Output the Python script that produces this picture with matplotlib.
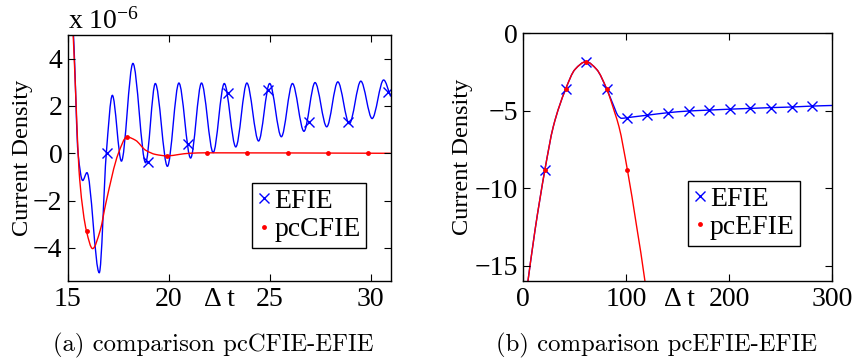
import numpy as np
import matplotlib
matplotlib.use("Agg")
import matplotlib.pyplot as plt
from matplotlib.path import Path
from matplotlib.patches import PathPatch
from matplotlib.lines import Line2D
from matplotlib.transforms import blended_transform_factory

plt.rcParams['font.family'] = ['Liberation Serif', 'DejaVu Serif']
plt.rcParams['mathtext.fontset'] = 'custom'
plt.rcParams['mathtext.rm'] = 'Liberation Serif'
plt.rcParams['mathtext.it'] = 'Liberation Serif:italic'

# ---------------- data: panel (a), values in units of 1e-6 ----------------
efie_a_t = [15.1, 15.3, 15.5, 15.73, 15.94, 16.55, 16.9, 17.2, 17.65, 18.22, 18.85,
            19.33, 19.93, 20.5, 21.08, 21.62, 22.2, 22.75, 23.32, 23.87, 24.45,
            25.0, 25.58, 26.13, 26.7, 27.25, 27.83, 28.38, 28.95, 29.52, 30.08,
            30.65, 31.0]
efie_a_val = [8.0, 4.5, 0.0, -1.15, -0.82, -5.05, 0.0, 2.45, -0.33, 3.8, -0.4,
              2.95, -0.55, 2.97, -0.2, 2.97, 0.03, 2.95, 0.27, 2.97, 0.52,
              2.95, 0.7, 2.95, 0.93, 2.99, 1.12, 3.02, 1.25, 3.05, 1.47,
              3.1, 2.4]
pc_a_t = [15.1, 15.3, 15.58, 15.92, 16.22, 16.6, 16.88, 17.5, 17.92, 18.35, 18.85,
          19.35, 19.92, 20.5, 21.0, 21.9, 31.0]
pc_a_val = [8.0, 4.2, -1.1, -3.3, -4.03, -3.25, -2.1, 0.0, 0.69, 0.55, 0.13,
            -0.05, -0.11, -0.05, 0.0, 0.02, 0.0]
efie_a_mk_t = [16.92, 18.95, 20.93, 22.94, 24.92, 26.95, 28.88, 30.86]
efie_a_mk_val = [0.02, -0.37, 0.38, 2.56, 2.69, 1.32, 1.32, 2.6]
pc_a_mk_t = [15.92, 17.91, 19.92, 21.9, 23.9, 25.89, 27.89, 29.87]
pc_a_mk_val = [-3.3, 0.68, -0.1, 0.02, 0.0, 0.0, 0.0, 0.0]

# ---------------- data: panel (b) ----------------
efie_b_t = [2.5, 11.4, 21, 29.1, 41, 50.2, 60.9, 71.2, 81, 87.4, 92.2, 95.5,
            100.4, 121.4, 140, 160, 180, 200, 220, 240, 260, 280, 300]
efie_b_val = [-17.0, -12.7, -8.8, -6.03, -3.62, -2.33, -1.83, -2.33, -3.6, -4.63,
              -5.34, -5.49, -5.45, -5.28, -5.13, -5.02, -4.96, -4.9, -4.85, -4.8,
              -4.76, -4.7, -4.66]
pc_b_t = [2.5, 11.4, 21, 29.1, 41, 50.2, 60.9, 71.2, 81, 89, 92.9, 101, 110.1,
          118.2, 120]
pc_b_val = [-17.0, -12.7, -8.8, -6.03, -3.62, -2.33, -1.83, -2.33, -3.6, -5.17,
            -6.03, -8.8, -12.5, -16.05, -17.0]
efie_b_mk_t = [21, 41, 61, 81, 100.5, 120.5, 140.5, 160.5, 180.5, 200.5, 220.5,
               240.5, 260.5, 280.5]
efie_b_mk_val = [-8.8, -3.62, -1.83, -3.58, -5.45, -5.28, -5.13, -5.02, -4.96,
                 -4.9, -4.85, -4.8, -4.76, -4.7]
pc_b_mk_t = [21, 41, 61, 81, 101]
pc_b_mk_val = [-8.85, -3.6, -1.85, -3.6, -8.8]

a_xticks = [15, 20, 25, 30]
a_yticks = [-4, -2, 0, 2, 4]
b_xticks = [0, 100, 200, 300]
b_yticks = [-15, -10, -5, 0]

BLUE = (0, 0, 1)
RED = (1, 0, 0)


def smooth_path(xs, ys):
    """Monotone cubic (PCHIP-like) curve through the points, as Bezier path."""
    x = np.asarray(xs, float)
    y = np.asarray(ys, float)
    h = np.diff(x)
    d = np.diff(y) / h
    m = np.zeros_like(y)
    m[0] = d[0]
    m[-1] = d[-1]
    for k in range(1, len(x) - 1):
        if d[k - 1] * d[k] <= 0:
            m[k] = 0.0
        else:
            w1 = 2 * h[k] + h[k - 1]
            w2 = h[k] + 2 * h[k - 1]
            m[k] = (w1 + w2) / (w1 / d[k - 1] + w2 / d[k])
    verts = [(x[0], y[0])]
    codes = [Path.MOVETO]
    for k in range(len(x) - 1):
        verts.append((x[k] + h[k] / 3, y[k] + m[k] * h[k] / 3))
        verts.append((x[k + 1] - h[k] / 3, y[k + 1] - m[k + 1] * h[k] / 3))
        verts.append((x[k + 1], y[k + 1]))
        codes += [Path.CURVE4] * 3
    return Path(verts, codes)


def draw_curve(ax, xs, ys, color):
    patch = PathPatch(smooth_path(xs, ys), fill=False, edgecolor=color, lw=1.0,
                      clip_on=True)
    ax.add_patch(patch)


fig = plt.figure(figsize=(8.53, 3.6), dpi=100)
axA = fig.add_axes([0.0797, 0.2194, 0.3783, 0.6833])
axB = fig.add_axes([0.6135, 0.2194, 0.3622, 0.688])

FS = 20
FSL = 17.5

for ax in (axA, axB):
    ax.tick_params(direction='in', top=True, right=True, length=5, width=0.8,
                   labelsize=FS, pad=4)
    for s in ax.spines.values():
        s.set_linewidth(1.0)

# panel a
draw_curve(axA, efie_a_t, efie_a_val, BLUE)
draw_curve(axA, pc_a_t, pc_a_val, RED)
axA.plot(efie_a_mk_t, efie_a_mk_val, ls='none', marker='x', color=BLUE, ms=7, mew=1.0)
axA.plot(pc_a_mk_t, pc_a_mk_val, ls='none', marker='o', color=RED, ms=3.5, mew=0)
axA.set_xlim(15, 31)
axA.set_ylim(-5.4, 5)
axA.set_xticks(a_xticks)
axA.set_yticks(a_yticks)
axA.set_yticklabels(['\u2212%d' % -v if v < 0 else '%d' % v for v in a_yticks])
axA.set_ylabel('Current Density', fontsize=FSL)
axA.yaxis.set_label_coords(-0.108, 0.5)
axA.text(0.0, 1.0, r'x 10$^{-6}$', transform=axA.transAxes, fontsize=FS,
         ha='left', va='bottom')
tr = blended_transform_factory(axA.transData, axA.transAxes)
axA.text(22.5, -0.025, '\u0394 t', transform=tr, fontsize=FS, ha='center', va='top')

hA = [Line2D([], [], ls='none', marker='x', color=BLUE, ms=7, mew=1.0),
      Line2D([], [], ls='none', marker='o', color=RED, ms=3.5, mew=0)]
legA = axA.legend(hA, ['EFIE', 'pcCFIE'], loc='upper left',
                  bbox_to_anchor=(0.570, 0.398), borderaxespad=0, fontsize=FS,
                  fancybox=False, framealpha=1, edgecolor='black',
                  handlelength=0.5, handletextpad=0.1, borderpad=0.2,
                  labelspacing=0.1)
legA.get_frame().set_linewidth(1.0)

# panel b
draw_curve(axB, efie_b_t, efie_b_val, BLUE)
draw_curve(axB, pc_b_t, pc_b_val, RED)
axB.plot(efie_b_mk_t, efie_b_mk_val, ls='none', marker='x', color=BLUE, ms=7, mew=1.0)
axB.plot(pc_b_mk_t, pc_b_mk_val, ls='none', marker='o', color=RED, ms=3.5, mew=0)
axB.set_xlim(0, 300)
axB.set_ylim(-16, 0)
axB.set_xticks(b_xticks)
axB.set_yticks(b_yticks)
axB.set_yticklabels(['\u2212%d' % -v if v < 0 else '%d' % v for v in b_yticks])
axB.set_ylabel('Current Density', fontsize=FSL)
axB.yaxis.set_label_coords(-0.163, 0.5)
trB = blended_transform_factory(axB.transData, axB.transAxes)
axB.text(152, -0.025, '\u0394 t', transform=trB, fontsize=FS, ha='center', va='top')

hB = [Line2D([], [], ls='none', marker='x', color=BLUE, ms=7, mew=1.0),
      Line2D([], [], ls='none', marker='o', color=RED, ms=3.5, mew=0)]
legB = axB.legend(hB, ['EFIE', 'pcEFIE'], loc='upper left',
                  bbox_to_anchor=(0.532, 0.404), borderaxespad=0, fontsize=FS,
                  fancybox=False, framealpha=1, edgecolor='black',
                  handlelength=0.5, handletextpad=0.1, borderpad=0.2,
                  labelspacing=0.1)
legB.get_frame().set_linewidth(1.0)

# captions
fig.text(213 / 853, 1 - 345 / 360, '(a) comparison pcCFIE-EFIE', family='cmr10',
         fontsize=17.8, ha='center', va='center')
fig.text(657 / 853, 1 - 345 / 360, '(b) comparison pcEFIE-EFIE', family='cmr10',
         fontsize=17.8, ha='center', va='center')

fig.savefig('out.png', dpi=100)
